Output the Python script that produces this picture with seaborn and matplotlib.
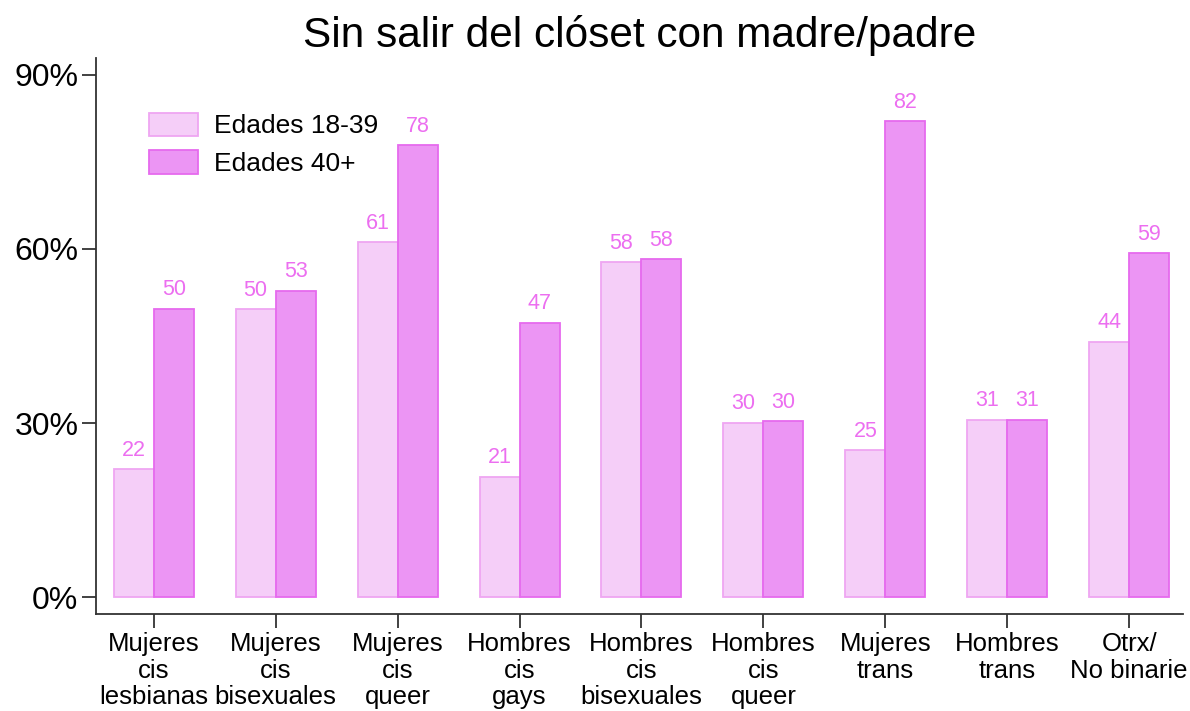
import pandas as pd
import matplotlib.pyplot as plt
import seaborn as sns
from matplotlib.patches import Patch

# Datos: porcentaje sin salir del clóset con madre/padre
categorias = ["Mujeres\ncis\nlesbianas", "Mujeres\ncis\nbisexuales", "Mujeres\ncis\nqueer",
              "Hombres\ncis\ngays", "Hombres\ncis\nbisexuales", "Hombres\ncis\nqueer",
              "Mujeres\ntrans", "Hombres\ntrans", "Otrx/\nNo binarie"]
edades_18_39 = [22.1, 49.6, 61.2, 20.8, 57.7, 30.1, 25.4, 30.6, 44.0]
edades_40 = [49.7, 52.8, 77.9, 47.3, 58.2, 30.3, 82.0, 30.6, 59.3]
grupos = ["Edades 18-39", "Edades 40+"]
yticks = [0, 30, 60, 90]

df = pd.DataFrame({
    "categoria": categorias * 2,
    "valor": edades_18_39 + edades_40,
    "grupo": [grupos[0]] * len(categorias) + [grupos[1]] * len(categorias),
})

relleno = ["#F5CEF8", "#EC95F4"]
borde = ["#EFA6F2", "#E66AEE"]
color_texto = "#EC6EF0"

sns.set_style("white")
plt.rcParams["font.family"] = ["Liberation Sans", "DejaVu Sans"]
plt.rcParams["text.color"] = "black"
plt.rcParams["xtick.color"] = "#333333"
plt.rcParams["ytick.color"] = "#333333"
plt.rcParams["xtick.labelcolor"] = "black"
plt.rcParams["ytick.labelcolor"] = "black"

fig = plt.figure(figsize=(11.9, 7.11), dpi=100)
ax = fig.add_axes([0.081, 0.136, 0.913, 0.782])

sns.barplot(data=df, x="categoria", y="valor", hue="grupo", palette=relleno,
            width=0.656, saturation=1, legend=False, ax=ax)

for cont, ec in zip(ax.containers, borde):
    for barra in cont:
        barra.set_edgecolor(ec)
        barra.set_linewidth(1.3)
    ax.bar_label(cont, fmt="%.0f", padding=6, color=color_texto, fontsize=15.5)

ax.set_ylim(-2.9, 92.8)
ax.set_xlim(-0.47, 8.44)
ax.set_yticks(yticks)
ax.set_yticklabels([f"{v}%" for v in yticks], fontsize=23)
ax.tick_params(axis="x", bottom=True, labelsize=18.5, length=10, width=1.3, pad=3, direction="out")
ax.tick_params(axis="y", left=True, length=10, width=1.3, pad=3, direction="out")
for lbl in ax.get_xticklabels():
    lbl.set_linespacing(1.12)
ax.set_xlabel("")
ax.set_ylabel("")

sns.despine(ax=ax)
for lado in ["left", "bottom"]:
    ax.spines[lado].set_color("#333333")
    ax.spines[lado].set_linewidth(1.3)

ax.set_title("Sin salir del clóset con madre/padre", fontsize=30.5, pad=8)

handles = [Patch(facecolor=f, edgecolor=e, linewidth=1.3, label=g)
           for f, e, g in zip(relleno, borde, grupos)]
ax.legend(handles=handles, loc="upper left", bbox_to_anchor=(0.027, 0.945), frameon=False,
          fontsize=19, handlelength=1.85, handleheight=1.0, labelspacing=0.45, handletextpad=0.6)

fig.savefig("out.png", dpi=100)
